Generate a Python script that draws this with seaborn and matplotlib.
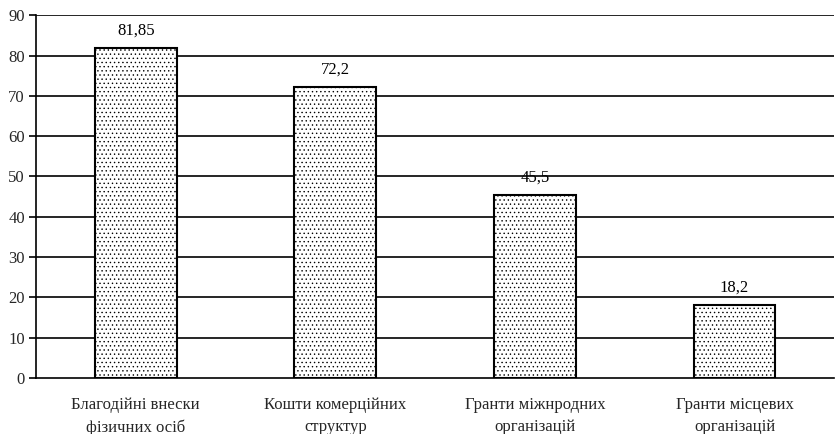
import numpy as np
import pandas as pd
import matplotlib
matplotlib.use("Agg")
import matplotlib.pyplot as plt
import seaborn as sns

categories = [
    "Благодійні внески\nфізичних осіб",
    "Кошти комерційних\nструктур",
    "Гранти міжнродних\nорганізацій",
    "Гранти місцевих\nорганізацій",
]
values = [81.85, 72.2, 45.5, 18.2]
value_labels = ["81,85", "72,2", "45,5", "18,2"]
y_ticks = [0, 10, 20, 30, 40, 50, 60, 70, 80, 90]

df = pd.DataFrame({"category": categories, "value": values})

sns.set_theme(style="white")
plt.rcParams["font.family"] = ["Liberation Serif", "DejaVu Serif"]
plt.rcParams["hatch.color"] = "#808080"
plt.rcParams["hatch.linewidth"] = 0.5

fig = plt.figure(figsize=(8.36, 4.34), dpi=100)
ax = fig.add_axes([0.043, 0.129, 0.955, 0.836])

for y in y_ticks[1:]:
    ax.axhline(y, color="black", linewidth=1.2, zorder=0)

sns.barplot(
    data=df,
    x="category",
    y="value",
    color="white",
    edgecolor="black",
    linewidth=1.5,
    width=0.41,
    ax=ax,
    zorder=2,
)
for patch in ax.patches:
    patch.set_hatch("....")
    patch.set_facecolor("white")

for i, (v, lab) in enumerate(zip(values, value_labels)):
    ax.text(i, v + 2.3, lab, ha="center", va="bottom", fontsize=12, color="black")

ax.set_ylim(0, 90)
ax.set_xlim(-0.5, 3.5)
ax.set_yticks(y_ticks)
ax.set_yticklabels([str(t) for t in y_ticks], fontsize=12)
ax.set_xticks([0, 1, 2, 3])
ax.set_xticklabels(categories, fontsize=12, linespacing=1.45)
ax.tick_params(axis="x", length=0, pad=14)
ax.set_xticks([0.5, 1.5, 2.5], minor=True)
ax.tick_params(axis="x", which="minor", length=5, width=1.2, direction="out", color="black")
ax.tick_params(axis="y", length=5, width=1.2, direction="out", color="black", left=True, pad=3)
ax.set_xlabel("")
ax.set_ylabel("")

for side in ["top", "right"]:
    ax.spines[side].set_visible(False)
ax.spines["left"].set_color("black")
ax.spines["left"].set_linewidth(1.2)
ax.spines["bottom"].set_color("black")
ax.spines["bottom"].set_linewidth(1.2)

fig.savefig("out.png", dpi=100)
